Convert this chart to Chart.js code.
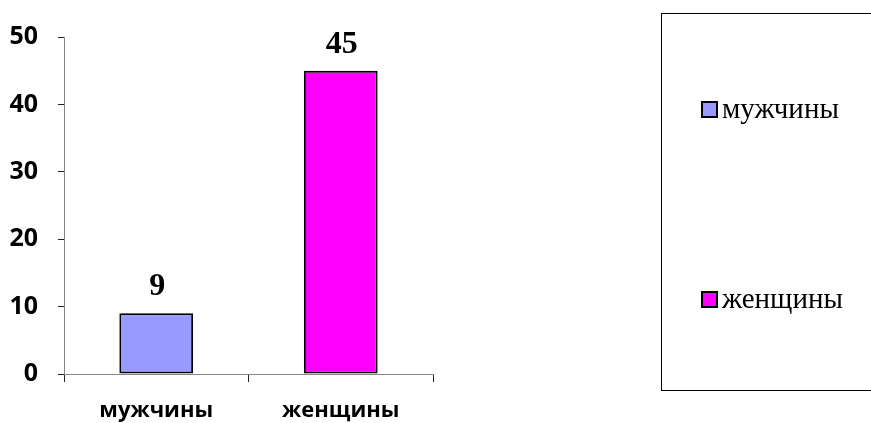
<!DOCTYPE html>
<html>
<head>
<meta charset="utf-8">
<script src="https://cdn.jsdelivr.net/npm/chart.js@4.4.1/dist/chart.umd.min.js"></script>
<style>
  html, body { margin: 0; padding: 0; background: #fff; }
  #wrap { width: 871px; height: 423px; position: relative; }
</style>
</head>
<body>
<div id="wrap"><canvas id="c" width="871" height="423"></canvas></div>
<script>
const categories = ["мужчины", "женщины"];
const values = [9, 45];
const barColors = ["#9999FF", "#FF00FF"];
const yTicks = [0, 10, 20, 30, 40, 50];

const valueLabels = {
  id: 'valueLabels',
  afterDatasetsDraw(chart) {
    const ctx = chart.ctx;
    const meta = chart.getDatasetMeta(0);
    ctx.save();
    ctx.font = "bold 32px 'Liberation Serif', 'Times New Roman', serif";
    ctx.fillStyle = "#000";
    ctx.textAlign = "center";
    ctx.textBaseline = "alphabetic";
    meta.data.forEach((bar, i) => {
      ctx.fillText(String(chart.data.datasets[0].data[i]), bar.x + 1, bar.y - 18);
    });
    ctx.restore();
  }
};

const boxLegend = {
  id: 'boxLegend',
  afterDraw(chart) {
    const ctx = chart.ctx;
    const labels = chart.data.labels;
    const colors = chart.data.datasets[0].backgroundColor;
    ctx.save();
    ctx.strokeStyle = "#000";
    ctx.lineWidth = 1;
    ctx.strokeRect(661.5, 13.5, 220, 377);
    const ys = [109, 299];
    ctx.font = "29px 'Liberation Serif', 'Times New Roman', serif";
    ctx.textBaseline = "middle";
    ctx.textAlign = "left";
    labels.forEach((lab, i) => {
      const y = ys[i];
      ctx.fillStyle = colors[i];
      ctx.fillRect(702, y - 7, 15, 15);
      ctx.lineWidth = 2;
      ctx.strokeStyle = "#000";
      ctx.strokeRect(702, y - 7, 15, 15);
      ctx.fillStyle = "#000";
      ctx.fillText(lab, 722, y + 1);
    });
    ctx.restore();
  }
};

new Chart(document.getElementById('c'), {
  type: 'bar',
  data: {
    labels: categories,
    datasets: [{
      data: values,
      backgroundColor: barColors,
      borderColor: "#000",
      borderWidth: 2,
      borderSkipped: false,
      categoryPercentage: 0.4,
      barPercentage: 1.0
    }]
  },
  options: {
    responsive: false,
    animation: false,
    devicePixelRatio: 1,
    layout: { padding: { top: 37, right: 438, left: 0, bottom: 0 } },
    plugins: { legend: { display: false }, tooltip: { enabled: false } },
    scales: {
      y: {
        min: 0, max: 50,
        afterBuildTicks(scale) { scale.ticks = yTicks.map(v => ({ value: v })); },
        afterFit(scale) { scale.width = 64; },
        grid: { drawOnChartArea: false, tickLength: 6, color: "#222", lineWidth: 1 },
        border: { color: "#868686", width: 1 },
        ticks: {
          padding: 20,
          color: "#000",
          font: { family: "'Open Sans', sans-serif", weight: 'bold', size: 25 }
        }
      },
      x: {
        afterFit(scale) { scale.height = 49; },
        grid: { drawOnChartArea: false, tickLength: 8, color: "#222", offset: true },
        border: { color: "#868686", width: 1 },
        ticks: {
          padding: 16,
          color: "#000",
          font: { family: "'Open Sans', sans-serif", weight: 'bold', size: 22 }
        }
      }
    }
  },
  plugins: [valueLabels, boxLegend]
});
</script>
</body>
</html>
